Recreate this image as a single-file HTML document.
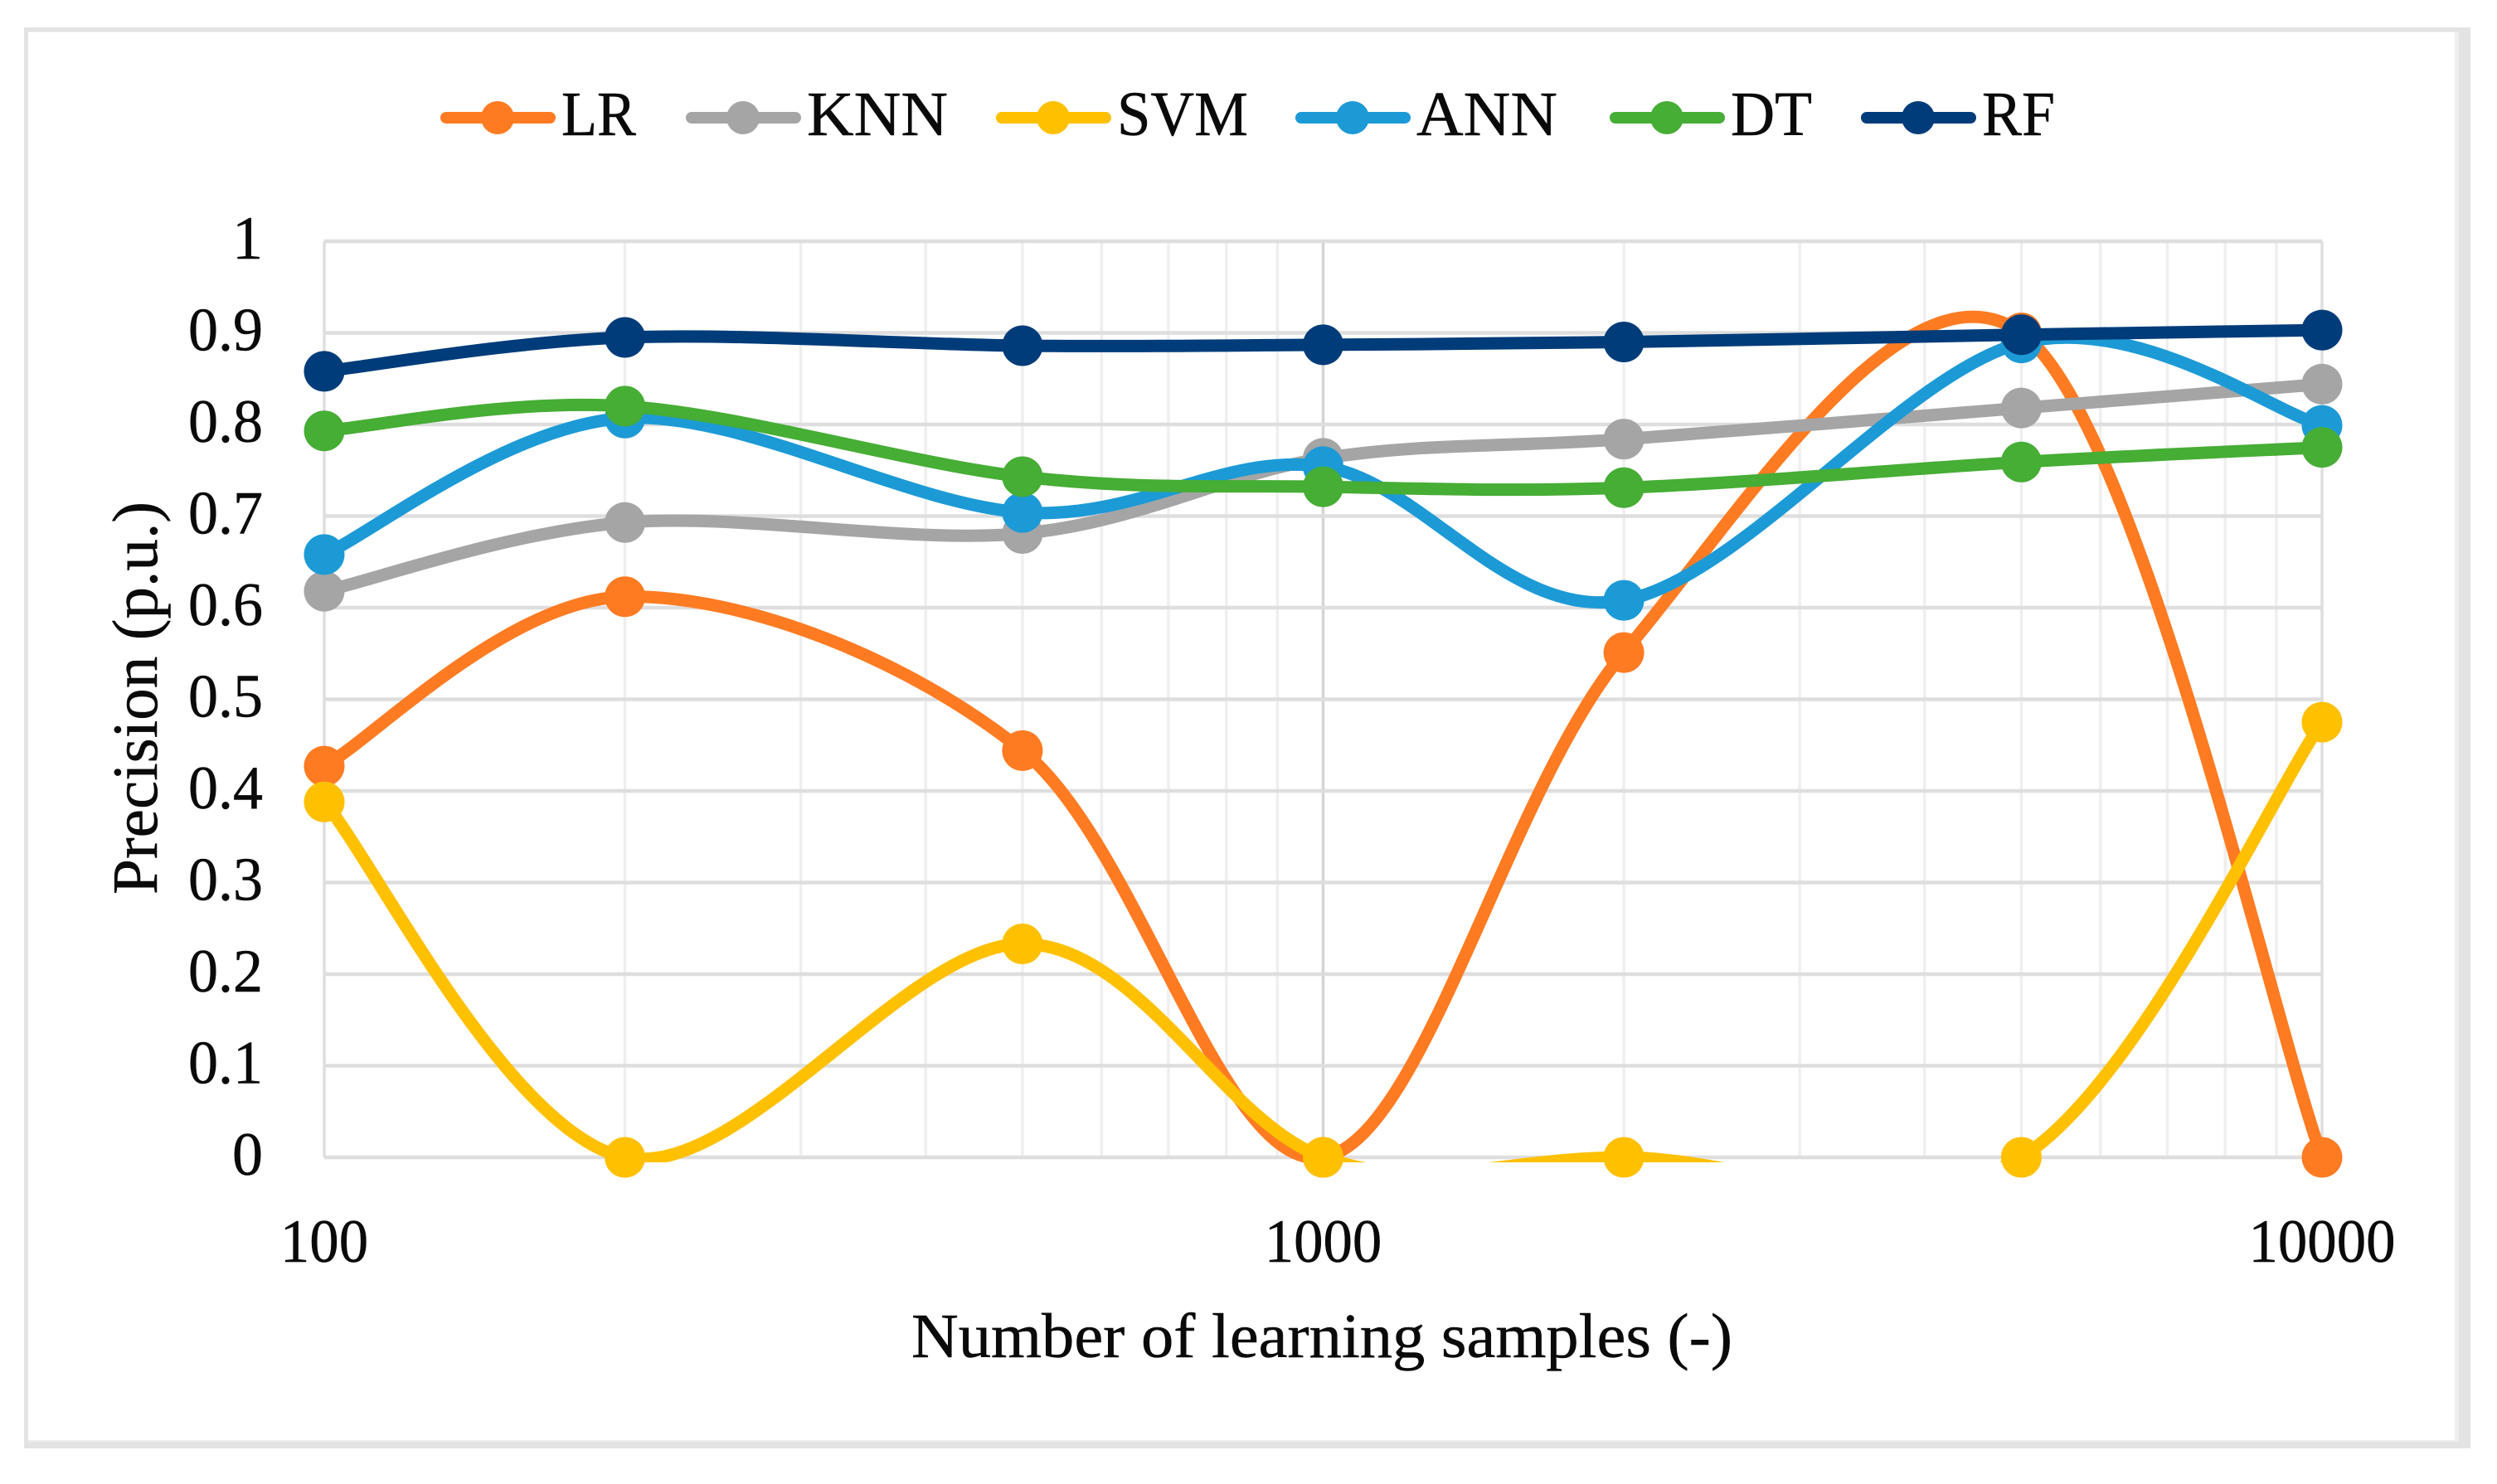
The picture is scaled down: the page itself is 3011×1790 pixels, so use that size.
<!DOCTYPE html>
<html lang="en">
<head>
<meta charset="utf-8">
<title>Precision vs number of learning samples</title>
<style>
html,body{margin:0;padding:0;background:#fff;}
svg{display:block;}
text{font-family:"Liberation Serif",serif;fill:#0a0a0a;stroke:#0a0a0a;stroke-width:0.5;}
</style>
</head>
<body>
<svg id="chart" width="3011" height="1790" viewBox="0 0 3011 1790" xmlns="http://www.w3.org/2000/svg">
  <defs>
    <clipPath id="plot-clip"><rect x="340" y="240" width="2520" height="1162"></rect></clipPath>
  </defs>
  <rect x="0" y="0" width="3011" height="1790" fill="#fff"></rect>
  <rect x="29" y="33" width="2950" height="1714" fill="#e3e3e3"></rect>
  <rect x="34" y="38" width="2931" height="1701" fill="#efefef"></rect>
  <rect x="34" y="39" width="2926" height="1698" fill="#fff"></rect>
  <g id="grid"></g>
  <g id="y-axis"></g>
  <g id="x-axis"></g>
  <text transform="translate(189,842) rotate(-90)" text-anchor="middle" font-size="77" textLength="474" lengthAdjust="spacingAndGlyphs">Precision (p.u.)</text>
  <text x="1594" y="1637" text-anchor="middle" font-size="76" textLength="990" lengthAdjust="spacingAndGlyphs">Number of learning samples (-)</text>
  <g id="series"></g>
  <g id="legend"></g>
</svg>
<script>
const samples = [100, 200, 500, 1000, 2000, 5000, 10000];
const seriesNames = ['LR', 'KNN', 'SVM', 'ANN', 'DT', 'RF'];
const seriesColors = ['#fe7b22', '#a5a5a5', '#ffc000', '#1c9ad6', '#46ad35', '#003c7a'];
const lrValues = [0.427, 0.612, 0.444, 0, 0.551, 0.9, 0];
const knnValues = [0.618, 0.693, 0.681, 0.763, 0.784, 0.818, 0.844];
const svmValues = [0.388, 0, 0.233, 0, 0, 0, 0.475];
const annValues = [0.658, 0.807, 0.704, 0.754, 0.608, 0.889, 0.799];
const dtValues = [0.793, 0.82, 0.743, 0.732, 0.731, 0.759, 0.775];
const rfValues = [0.858, 0.895, 0.886, 0.887, 0.89, 0.898, 0.903];
const seriesValues = [lrValues, knnValues, svmValues, annValues, dtValues, rfValues];
const yTickLabels = ['0', '0.1', '0.2', '0.3', '0.4', '0.5', '0.6', '0.7', '0.8', '0.9', '1'];
const xTickLabels = ['100', '1000', '10000'];
const legendLabels = ['LR', 'KNN', 'SVM', 'ANN', 'DT', 'RF'];

const NS = 'http://www.w3.org/2000/svg';
const xLeft = 391, xDecade = 1204.5, yZero = 1396, yFull = 291;
function xScale(v) { return xLeft + (Math.log10(v) - 2) * xDecade; }
function yScale(v) { return yZero - v * (yZero - yFull); }
function make(tag, attrs, parent) {
  const el = document.createElementNS(NS, tag);
  for (const k in attrs) el.setAttribute(k, attrs[k]);
  parent.appendChild(el);
  return el;
}

const grid = document.getElementById('grid');
for (let d = 2; d < 4; d++) {
  for (let m = 1; m <= 9; m++) {
    const v = m * Math.pow(10, d);
    if (m === 1) continue;
    const gl = make('line', { x1: xScale(v), x2: xScale(v), y1: yFull, y2: yZero, stroke: '#efefef', 'stroke-width': 3.5 }, grid);
    
    
  }
}
xTickLabels.forEach(function (lab) {
  const v = Number(lab);
  const gl = make('line', { x1: xScale(v), x2: xScale(v), y1: yFull, y2: yZero, stroke: v === 1000 ? '#d4d4d4' : '#dedede', 'stroke-width': 3.5 }, grid);
  
  
});
yTickLabels.forEach(function (lab) {
  const v = Number(lab);
  const gl = make('line', { x1: xLeft, x2: xScale(10000), y1: yScale(v), y2: yScale(v), stroke: '#dedede', 'stroke-width': 4.5 }, grid);
  
  
});

const yAxis = document.getElementById('y-axis');
yTickLabels.forEach(function (lab) {
  const t = make('text', { x: 317, y: yScale(Number(lab)) + 21, 'text-anchor': 'end', 'font-size': 74 }, yAxis);
  if (lab.length === 3) t.setAttribute('textLength', 90);
  if (lab.length === 3) t.setAttribute('lengthAdjust', 'spacingAndGlyphs');
  
  
  t.textContent = lab;
});
const xAxis = document.getElementById('x-axis');
xTickLabels.forEach(function (lab) {
  const t = make('text', { x: xScale(Number(lab)), y: 1522, 'text-anchor': 'middle', 'font-size': 74, textLength: lab.length * 35.4, lengthAdjust: 'spacingAndGlyphs' }, xAxis);
  
  
  t.textContent = lab;
});

function smoothPath(points) {
  let d = 'M' + points[0][0] + ' ' + points[0][1];
  for (let i = 0; i < points.length - 1; i++) {
    const p0 = points[Math.max(i - 1, 0)], p1 = points[i], p2 = points[i + 1], p3 = points[Math.min(i + 2, points.length - 1)];
    const c1x = p1[0] + (p2[0] - p0[0]) / 6, c1y = p1[1] + (p2[1] - p0[1]) / 6;
    const c2x = p2[0] - (p3[0] - p1[0]) / 6, c2y = p2[1] - (p3[1] - p1[1]) / 6;
    d += ' C' + c1x + ' ' + c1y + ' ' + c2x + ' ' + c2y + ' ' + p2[0] + ' ' + p2[1];
  }
  return d;
}

const seriesGroup = document.getElementById('series');
seriesNames.forEach(function (name, s) {
  const g = make('g', {}, seriesGroup);
  
  
  const pts = seriesValues[s].map(function (v, i) { return [xScale(samples[i]), yScale(v)]; });
  const line = make('path', { d: smoothPath(pts), fill: 'none', stroke: seriesColors[s], 'stroke-width': 15, 'stroke-linecap': 'round', 'stroke-linejoin': 'round', 'clip-path': 'url(#plot-clip)' }, g);
  
  
  pts.forEach(function (p) {
    const c = make('circle', { cx: p[0], cy: p[1], r: 24.5, fill: seriesColors[s] }, g);
    
    
  });
});

const legendGroup = document.getElementById('legend');
const legendLineStart = [538, 834, 1208, 1569, 1948, 2251];
const legendTextWidth = [90, 170, 158, 170, 98, 88];
legendLabels.forEach(function (lab, i) {
  const g = make('g', {}, legendGroup);
  
  
  const x0 = legendLineStart[i];
  const l = make('line', { x1: x0, x2: x0 + 125, y1: 142, y2: 142, stroke: seriesColors[i], 'stroke-width': 14, 'stroke-linecap': 'round' }, g);
  
  
  const c = make('circle', { cx: x0 + 62, cy: 142, r: 20, fill: seriesColors[i] }, g);
  
  
  const t = make('text', { x: x0 + 139, y: 163, 'font-size': 76, textLength: legendTextWidth[i], lengthAdjust: 'spacingAndGlyphs' }, g);
  
  
  t.textContent = lab;
});
</script>
</body>
</html>
